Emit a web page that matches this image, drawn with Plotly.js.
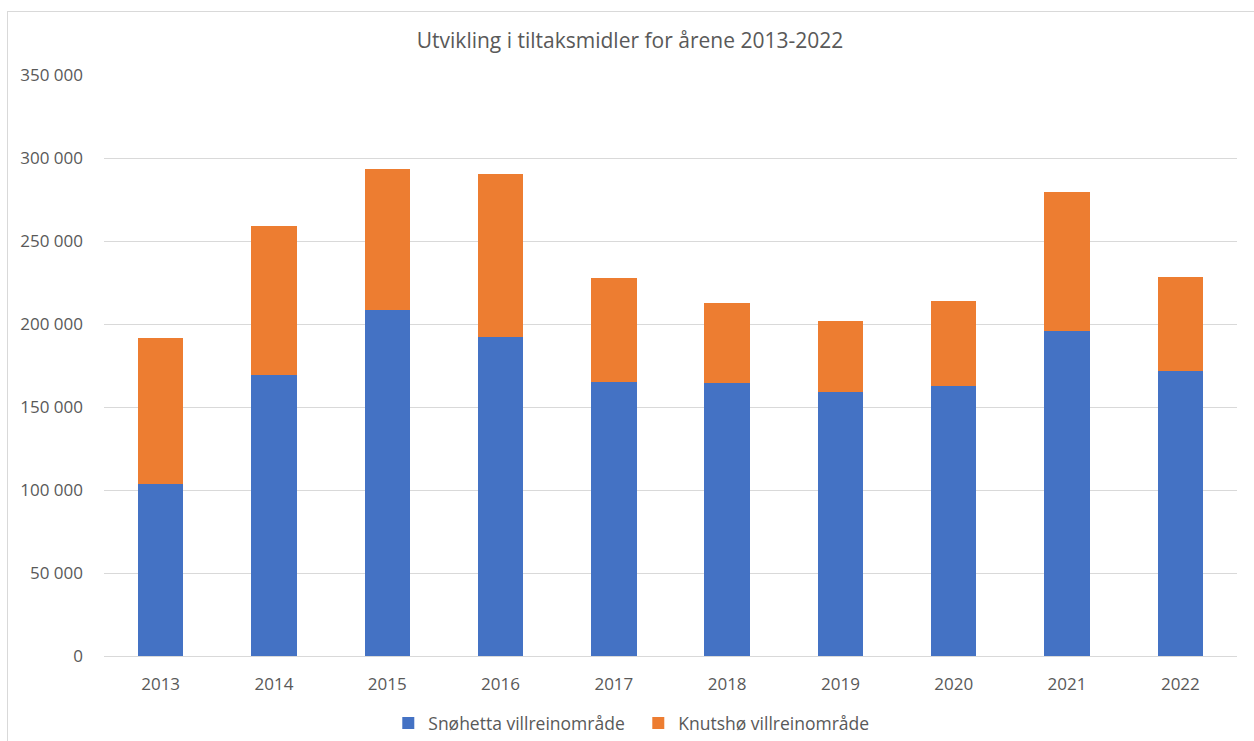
<!DOCTYPE html>
<html>
<head>
<meta charset="utf-8">
<script src="https://cdn.plot.ly/plotly-3.0.1.min.js"></script>
<style>
  html, body { margin: 0; padding: 0; background: #fff; }
  #frame { position: absolute; left: 7px; top: 11px; width: 1260px; height: 740px; border: 1px solid #d9d9d9; box-sizing: border-box; }
  #chart { position: absolute; left: 0; top: 0; width: 1254px; height: 741px; }
</style>
</head>
<body>
<div id="frame"></div>
<div id="chart"></div>
<script>
const years = ["2013", "2014", "2015", "2016", "2017", "2018", "2019", "2020", "2021", "2022"];
const snohetta = [103500, 169200, 208300, 192000, 165200, 164300, 158900, 162500, 195700, 171600];
const totals = [191700, 259200, 293100, 290200, 227600, 212800, 201700, 214000, 279400, 228200];
const knutsho = totals.map((t, i) => t - snohetta[i]);

const seriesNames = ["Snøhetta villreinområde", "Knutshø villreinområde"];
const yTicks = [0, 50000, 100000, 150000, 200000, 250000, 300000, 350000];
const yTickLabels = ["0", "50 000", "100 000", "150 000", "200 000", "250 000", "300 000", "350 000"];

const fontFam = "'Open Sans', sans-serif";
const textCol = "#595959";

const traces = [
  { type: "bar", name: seriesNames[0], x: years, y: snohetta, marker: { color: "#4472C4", line: { width: 0 } } },
  { type: "bar", name: seriesNames[1], x: years, y: knutsho, marker: { color: "#ED7D31", line: { width: 0 } } }
];

const layout = {
  width: 1254, height: 741,
  paper_bgcolor: "rgba(0,0,0,0)", plot_bgcolor: "rgba(0,0,0,0)",
  margin: { l: 104, r: 17, t: 75, b: 85 },
  barmode: "stack",
  bargap: 0.6,
  title: { text: "Utvikling i tiltaksmidler for årene 2013-2022", x: 630/1254, xanchor: "center", y: 1 - 41/741, yanchor: "middle",
           font: { family: fontFam, size: 21, color: textCol } },
  xaxis: { type: "category", showgrid: false, showline: false, zeroline: false, ticks: "", automargin: false,
           tickfont: { family: fontFam, size: 17, color: textCol }, ticklabelstandoff: 16 },
  yaxis: { range: [0, 350000], tickvals: yTicks, ticktext: yTickLabels, showgrid: true, gridcolor: "#d9d9d9", gridwidth: 1,
           zeroline: true, zerolinecolor: "#d9d9d9", zerolinewidth: 1, showline: false, ticks: "", automargin: false,
           tickfont: { family: fontFam, size: 17, color: textCol }, ticklabelstandoff: 20 },
  showlegend: true,
  legend: { orientation: "h", xref: "container", x: 0.509, xanchor: "center", yref: "container", y: 1 - 723/741, yanchor: "middle",
            traceorder: "normal", entrywidth: 205,
            font: { family: fontFam, size: 17.5, color: textCol }, itemwidth: 30 }
};

Plotly.newPlot("chart", traces, layout, { displayModeBar: false, staticPlot: true });
</script>
</body>
</html>
